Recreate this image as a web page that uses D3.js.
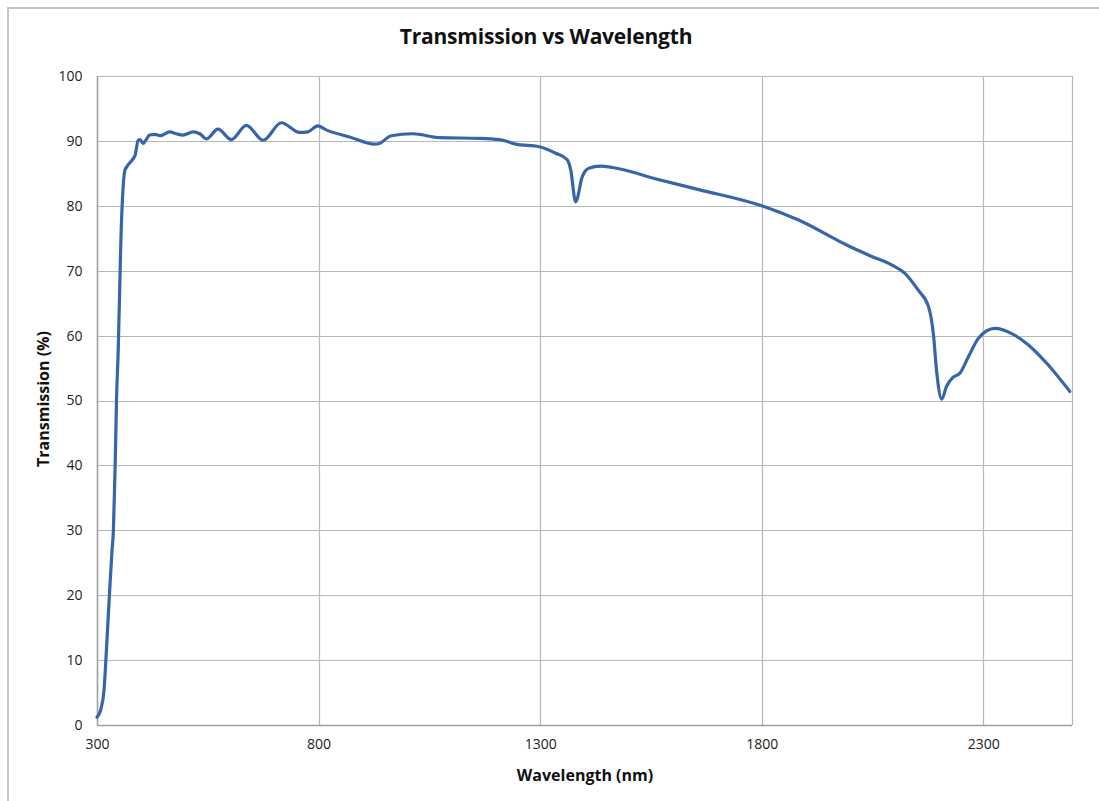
<!DOCTYPE html>
<html><head><meta charset="utf-8">
<script src="https://cdn.jsdelivr.net/npm/d3@7"></script>
<style>
html,body{margin:0;padding:0;background:#fff;}
svg{display:block;}
</style></head>
<body><svg id="chart" width="1099" height="801"></svg>
<script>
const chartTitle = "Transmission vs Wavelength";
const xLabel = "Wavelength (nm)";
const yLabel = "Transmission (%)";
const xTicks = [300, 800, 1300, 1800, 2300];
const yTicks = [0, 10, 20, 30, 40, 50, 60, 70, 80, 90, 100];
const wavelength = [300, 310, 316, 320, 328, 334, 337, 341, 344, 348, 354, 363, 367, 382, 386, 393, 397, 404, 408, 419, 431, 442, 464, 479, 494, 517, 532, 547, 573, 603, 637, 675, 716, 757, 776, 798, 817, 870, 926, 937, 964, 1012, 1073, 1163, 1208, 1226, 1245, 1298, 1335, 1361, 1369, 1380, 1395, 1410, 1436, 1463, 1564, 1658, 1800, 1883, 1996, 2048, 2093, 2123, 2153, 2176, 2187, 2195, 2206, 2217, 2232, 2247, 2266, 2289, 2326, 2364, 2401, 2446, 2495];
const transmission = [1.2, 2.8, 5.5, 10, 20, 27, 30, 40, 50, 58, 75, 85.5, 86, 87.3, 87.8, 90.1, 90.2, 89.6, 89.9, 90.9, 91, 90.8, 91.4, 91.1, 90.9, 91.4, 91.1, 90.3, 91.8, 90.2, 92.4, 90.1, 92.8, 91.3, 91.4, 92.3, 91.7, 90.6, 89.5, 89.6, 90.8, 91.1, 90.5, 90.4, 90.2, 89.9, 89.5, 89.1, 88.1, 87.1, 85.5, 80.6, 84.5, 85.8, 86.1, 85.9, 84.1, 82.5, 80.0, 77.8, 73.8, 72.2, 70.9, 69.6, 67, 64.5, 60.4, 54.2, 50.2, 52.2, 53.6, 54.2, 56.7, 59.6, 61.1, 60.3, 58.6, 55.5, 51.4];

const svg = d3.select("#chart");
const m = {left: 97, right: 1072, top: 76, bottom: 725};
const x = d3.scaleLinear().domain([300, 2500]).range([m.left, m.right]);
const y = d3.scaleLinear().domain([0, 100]).range([m.bottom, m.top]);
const font = "'Open Sans', 'Liberation Sans', sans-serif";

// outer border
svg.append("path").attr("d", "M8,1099 L8,8 L1099,8")
  .attr("fill", "none").attr("stroke", "#c4c4c4").attr("stroke-width", 2);

// gridlines
svg.append("g").selectAll("line").data(yTicks).join("line")
  .attr("x1", m.left).attr("x2", m.right)
  .attr("y1", d => Math.round(y(d)) + 0.5).attr("y2", d => Math.round(y(d)) + 0.5)
  .attr("stroke", "#b8b8b8").attr("stroke-width", 1.2);
svg.append("g").selectAll("line").data(xTicks.concat([2500])).join("line")
  .attr("y1", m.top).attr("y2", m.bottom)
  .attr("x1", d => Math.round(x(d)) + 0.5).attr("x2", d => Math.round(x(d)) + 0.5)
  .attr("stroke", "#b8b8b8").attr("stroke-width", 1.2);

// axes
const xAxis = svg.append("g").attr("transform", `translate(0,${m.bottom + 0.5})`)
  .call(d3.axisBottom(x).tickValues(xTicks).tickSize(0).tickPadding(14).tickFormat(d3.format("d")));
const yAxis = svg.append("g").attr("transform", `translate(${m.left + 0.5},0)`)
  .call(d3.axisLeft(y).tickValues(yTicks).tickSize(0).tickPadding(15).tickFormat(d3.format("d")));
[xAxis, yAxis].forEach(g => {
  g.select(".domain").attr("stroke", "#a0a0a0").attr("stroke-width", 1.5);
  g.selectAll("text").attr("font-family", font).attr("font-size", 14).attr("fill", "#222");
});
yAxis.select(".domain").attr("d", `M0,${m.top}V${m.bottom}`);
xAxis.select(".domain").attr("d", `M${m.left},0H${m.right}`);

// line
const data = wavelength.map((w, i) => [w, transmission[i]]);
svg.append("path").datum(data)
  .attr("fill", "none").attr("stroke", "#3865a8").attr("stroke-width", 3.2)
  .attr("stroke-linejoin", "round").attr("stroke-linecap", "round")
  .attr("d", d3.line().x(d => x(d[0])).y(d => y(d[1])).curve(d3.curveMonotoneX));

// title and labels
svg.append("text").attr("x", 546).attr("y", 44).attr("text-anchor", "middle")
  .attr("font-family", font).attr("font-weight", "bold").attr("font-size", 21)
  .attr("letter-spacing", -0.2).attr("fill", "#111").text(chartTitle);
svg.append("text").attr("x", 585).attr("y", 781).attr("text-anchor", "middle")
  .attr("font-family", font).attr("font-weight", "bold").attr("font-size", 16)
  .attr("fill", "#111").text(xLabel);
svg.append("text").attr("transform", "translate(49,399) rotate(-90)").attr("text-anchor", "middle")
  .attr("font-family", font).attr("font-weight", "bold").attr("font-size", 16)
  .attr("fill", "#111").text(yLabel);
</script></body></html>
